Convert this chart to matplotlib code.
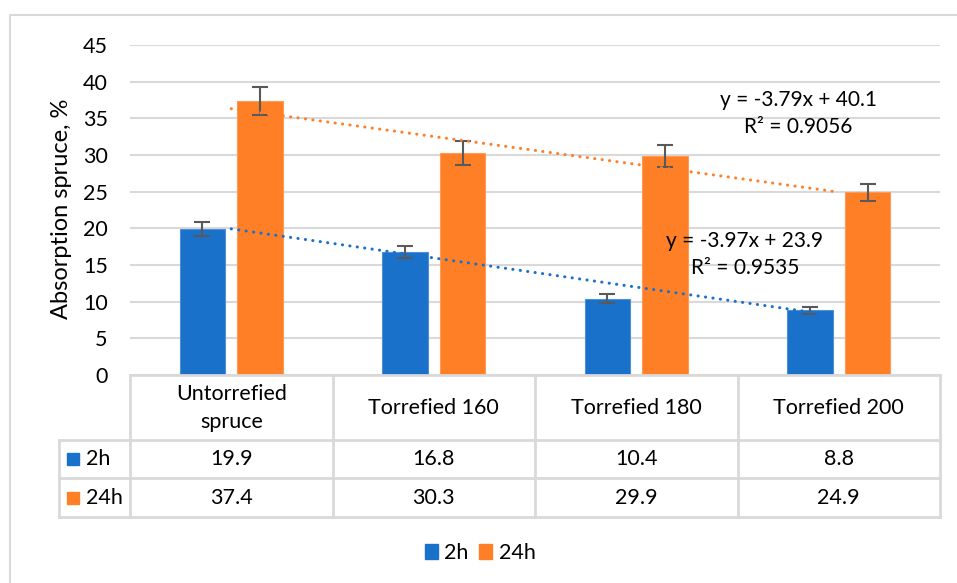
import matplotlib.pyplot as plt
import numpy as np
from matplotlib.patches import Rectangle
from matplotlib.lines import Line2D

plt.rcParams['font.family'] = ['Lato', 'DejaVu Sans']

# data
categories = ['Untorrefied\nspruce', 'Torrefied 160', 'Torrefied 180', 'Torrefied 200']
series_names = ['2h', '24h']
vals_2h = [19.9, 16.8, 10.4, 8.8]
vals_24h = [37.4, 30.3, 29.9, 24.9]
err_2h = [1.0, 0.8, 0.6, 0.5]
err_24h = [1.9, 1.6, 1.5, 1.2]
yticks = [0, 5, 10, 15, 20, 25, 30, 35, 40, 45]

blue = '#1A71C9'
orange = '#FF7F27'
grid_c = '#D9D9D9'
err_c = '#595959'
fs = 15.5

W, H = 957, 583
fig = plt.figure(figsize=(W / 100, H / 100), dpi=100)

def fx(px):
    return px / W

def fy(py):
    return 1 - py / H

# outer chart border (only left/top visible)
fig.add_artist(Line2D([fx(10), fx(10), fx(957)], [fy(583), fy(15), fy(15)],
                      color=grid_c, lw=1.5, transform=fig.transFigure))

ax_l, ax_r, ax_t, ax_b = 130, 940, 45, 375
ax = fig.add_axes([fx(ax_l), fy(ax_b), fx(ax_r - ax_l), (ax_b - ax_t) / H])
x = np.arange(len(categories))
bw = 0.227
off = 0.142
ax.bar(x - off, vals_2h, bw, color=blue, edgecolor='#4E8FD6', lw=0.8, zorder=2,
       yerr=err_2h, error_kw=dict(ecolor=err_c, capsize=5.5, elinewidth=1.5, capthick=1.5))
ax.bar(x + off, vals_24h, bw, color=orange, edgecolor='#FF9A55', lw=0.8, zorder=2,
       yerr=err_24h, error_kw=dict(ecolor=err_c, capsize=5.5, elinewidth=1.5, capthick=1.5))

# linear trendlines (Excel x = 1..n)
xn = np.arange(1, len(categories) + 1)
for vals, col, tx, ty in [(vals_24h, orange, 2.80, 35.66), (vals_2h, blue, 2.537, 16.43)]:
    k, b = np.polyfit(xn, vals, 1)
    fit = k * xn + b
    r2 = 1 - np.sum((np.array(vals) - fit) ** 2) / np.sum((np.array(vals) - np.mean(vals)) ** 2)
    ax.plot(x, fit, color=col, lw=2.2, linestyle=(0, (0.05, 2.4)),
            dash_capstyle='round', zorder=3)
    ax.text(tx, ty, f'y = {k:.2f}x + {b:.1f}\nR² = {r2:.4f}', ha='center', va='center',
            fontsize=15, linespacing=1.4, zorder=4)

ax.set_xlim(-0.5, len(categories) - 0.5)
ax.set_ylim(0, 45)
ax.set_yticks(yticks)
ax.set_xticks([])
ax.tick_params(axis='y', length=0, labelsize=fs, pad=16)
ax.yaxis.grid(True, color=grid_c, lw=1.5)
ax.set_axisbelow(True)
for s in ['top', 'right', 'left']:
    ax.spines[s].set_visible(False)
ax.spines['bottom'].set_color(grid_c)
ax.spines['bottom'].set_linewidth(2)
fig.text(fx(62), fy(209), 'Absorption spruce, %', rotation=90, ha='center', va='center',
         fontsize=17)

# data table below the axis
col_w = (ax_r - ax_l) / len(categories)
rows_y = [375, 440, 478, 517]
tl = dict(color=grid_c, lw=2, transform=fig.transFigure)
for yy in rows_y[1:]:
    fig.add_artist(Line2D([fx(59), fx(ax_r)], [fy(yy), fy(yy)], **tl))
for i in range(len(categories) + 1):
    xx = ax_l + i * col_w
    fig.add_artist(Line2D([fx(xx), fx(xx)], [fy(375), fy(517)], **tl))
fig.add_artist(Line2D([fx(59), fx(59)], [fy(440), fy(517)], **tl))

for i, c in enumerate(categories):
    cx = ax_l + (i + 0.5) * col_w
    fig.text(fx(cx), fy(408), c, ha='center', va='center', fontsize=fs, linespacing=1.45)
    fig.text(fx(cx), fy(459), f'{vals_2h[i]}', ha='center', va='center', fontsize=fs)
    fig.text(fx(cx), fy(498), f'{vals_24h[i]}', ha='center', va='center', fontsize=fs)

for name, col, yy in [(series_names[0], blue, 459), (series_names[1], orange, 498)]:
    fig.add_artist(Rectangle((fx(67), fy(yy + 6)), fx(12), 12 / H, color=col,
                             transform=fig.transFigure))
    fig.text(fx(86), fy(yy), name, ha='left', va='center', fontsize=fs)

# bottom legend
handles = [Rectangle((0, 0), 1, 1, color=blue), Rectangle((0, 0), 1, 1, color=orange)]
fig.legend(handles, series_names, loc='center', bbox_to_anchor=(fx(480), fy(553)),
           ncol=2, frameon=False, fontsize=fs, handlelength=0.6, handleheight=0.75,
           handletextpad=0.3, columnspacing=0.5)

fig.savefig('out.png', dpi=100)
